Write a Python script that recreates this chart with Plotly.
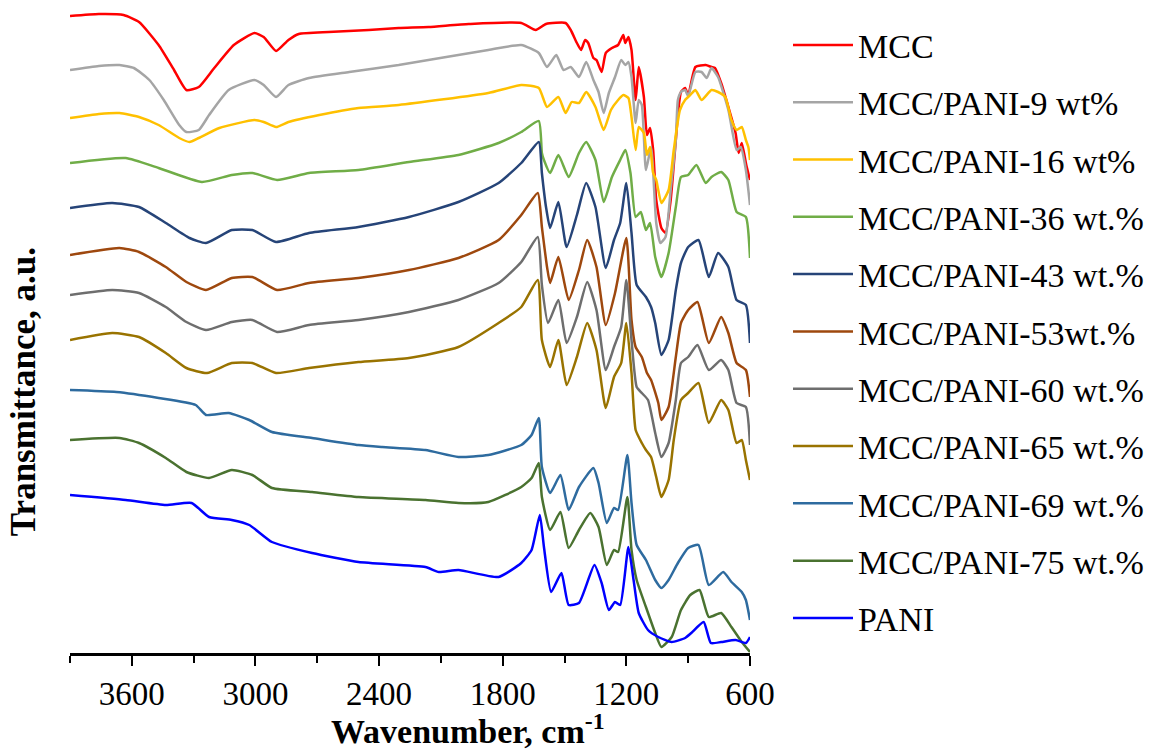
import plotly.graph_objects as go

# FTIR spectra of MCC, PANI and MCC/PANI composites (curves are offset vertically, a.u.)

mcc_wn = [3900, 3760, 3640, 3565, 3470, 3395, 3335, 3275, 3200, 3105, 3005, 2960, 2900, 2840, 2790, 2645,
          2450, 2305, 2160, 1965, 1710, 1640, 1590, 1495, 1470, 1440, 1420, 1400, 1385, 1360, 1345, 1320,
          1300, 1270, 1240, 1215, 1205, 1190, 1175, 1155, 1140, 1115, 1100, 1085, 1070, 1055, 1030, 1010,
          985, 960, 950, 935, 915, 900, 865, 815, 787, 770, 740, 705, 670, 655, 640, 618, 600]
mcc_t = [637, 639, 638, 631, 608, 583, 563, 566, 585, 608, 620, 616, 602, 613, 619, 621,
         623, 625, 626, 629, 630, 623, 629, 630, 623, 610, 603, 613, 610, 595, 593, 581,
         600, 605, 608, 618, 610, 616, 603, 553, 586, 556, 518, 525, 503, 453, 425, 420,
         453, 513, 538, 561, 565, 558, 586, 588, 586, 585, 570, 546, 520, 500, 510, 488, 473]

p9_wn = [3900, 3760, 3660, 3590, 3515, 3445, 3370, 3335, 3275, 3225, 3130, 3005, 2960, 2900, 2840, 2740,
         2545, 2305, 1870, 1710, 1625, 1585, 1540, 1505, 1470, 1430, 1395, 1360, 1335, 1310, 1285, 1255,
         1225, 1205, 1190, 1175, 1155, 1140, 1125, 1105, 1080, 1055, 1035, 1010, 985, 960, 950, 935,
         915, 900, 865, 835, 810, 787, 755, 705, 665, 645, 620, 600]
p9_t = [583, 587, 588, 585, 573, 553, 528, 521, 523, 538, 563, 573, 568, 556, 568, 575,
        581, 588, 603, 608, 600, 586, 598, 583, 586, 576, 591, 573, 561, 540, 560, 576,
        593, 588, 591, 576, 530, 553, 548, 483, 506, 430, 410, 416, 463, 513, 553, 561,
        563, 557, 581, 581, 575, 585, 576, 543, 503, 506, 483, 448]

p16_wn = [3900, 3760, 3660, 3565, 3470, 3370, 3320, 3275, 3175, 3005, 2960, 2900, 2840, 2690, 2500, 2305,
          1870, 1710, 1625, 1585, 1530, 1495, 1465, 1430, 1395, 1350, 1310, 1275, 1240, 1215, 1190, 1175,
          1155, 1140, 1115, 1100, 1085, 1070, 1055, 1030, 995, 970, 940, 915, 890, 865, 835, 787,
          755, 720, 690, 665, 640, 620, 608, 600]
p16_t = [535, 539, 540, 536, 528, 515, 511, 515, 525, 533, 531, 526, 531, 538, 545, 548,
         560, 568, 565, 546, 556, 540, 551, 550, 561, 546, 523, 543, 553, 558, 555, 536,
         503, 526, 520, 498, 506, 480, 473, 450, 463, 503, 543, 553, 558, 563, 553, 563,
         561, 556, 533, 523, 526, 513, 506, 493]

p36_wn = [3900, 3630, 3470, 3260, 3115, 3015, 2895, 2740, 2500, 2255, 2015, 1820, 1710, 1625, 1610, 1600,
          1570, 1530, 1480, 1430, 1395, 1350, 1310, 1270, 1230, 1205, 1180, 1155, 1130, 1105, 1085, 1060,
          1030, 995, 960, 935, 900, 860, 815, 787, 740, 705, 665, 620, 600]
p36_t = [490, 495, 485, 471, 478, 480, 473, 480, 483, 491, 498, 510, 521, 532, 500, 493,
         480, 498, 476, 500, 511, 493, 451, 476, 493, 503, 480, 436, 441, 423, 430, 396,
         376, 400, 446, 476, 478, 488, 470, 476, 481, 473, 441, 436, 395]

p43_wn = [3900, 3695, 3565, 3435, 3320, 3240, 3115, 3015, 2900, 2740, 2500, 2255, 2015, 1820, 1710, 1625,
          1610, 1590, 1570, 1530, 1490, 1440, 1395, 1350, 1300, 1260, 1230, 1200, 1175, 1150, 1105, 1080,
          1060, 1030, 995, 960, 935, 900, 850, 800, 755, 705, 665, 620, 600]
p43_t = [445, 450, 446, 430, 415, 410, 423, 423, 411, 420, 426, 436, 451, 470, 490, 511,
         480, 446, 425, 451, 406, 438, 470, 446, 385, 413, 430, 470, 420, 368, 356, 346,
         330, 298, 313, 363, 390, 406, 413, 376, 400, 386, 353, 348, 310]

p53_wn = [3900, 3660, 3565, 3435, 3335, 3240, 3115, 3015, 2895, 2740, 2500, 2255, 2015, 1820, 1710, 1630,
          1610, 1585, 1570, 1530, 1480, 1430, 1390, 1345, 1300, 1255, 1200, 1175, 1155, 1125, 1100, 1080,
          1045, 1030, 995, 960, 935, 900, 855, 800, 740, 705, 665, 620, 600]
p53_t = [398, 405, 401, 386, 371, 363, 375, 376, 363, 370, 375, 383, 395, 413, 438, 460,
         426, 386, 370, 396, 353, 383, 413, 386, 328, 360, 415, 333, 306, 296, 280, 273,
         250, 233, 246, 296, 330, 343, 351, 310, 336, 320, 290, 283, 256]

p60_wn = [3900, 3695, 3565, 3435, 3335, 3240, 3115, 3015, 2895, 2740, 2500, 2255, 2015, 1820, 1710, 1630,
          1610, 1580, 1530, 1490, 1440, 1390, 1345, 1300, 1260, 1225, 1200, 1175, 1150, 1125, 1095, 1060,
          1030, 995, 960, 935, 900, 855, 800, 740, 705, 665, 620, 600]
p60_t = [358, 363, 360, 346, 331, 323, 331, 333, 321, 328, 333, 341, 353, 370, 391, 416,
         368, 330, 353, 310, 336, 371, 343, 283, 306, 326, 373, 313, 266, 260, 253, 220,
         196, 210, 253, 290, 296, 308, 283, 293, 283, 250, 246, 208]

p65_wn = [3900, 3695, 3565, 3435, 3335, 3235, 3115, 3015, 2900, 2740, 2500, 2255, 2015, 1820, 1710, 1630,
          1610, 1570, 1530, 1490, 1440, 1390, 1345, 1300, 1260, 1225, 1200, 1175, 1155, 1125, 1105, 1080,
          1055, 1030, 995, 970, 935, 900, 850, 800, 740, 705, 665, 640, 620, 600]
p65_t = [313, 320, 316, 300, 285, 280, 290, 290, 280, 285, 291, 295, 306, 330, 346, 373,
         313, 286, 313, 268, 296, 330, 303, 245, 276, 290, 330, 280, 223, 210, 203, 196,
         176, 156, 173, 213, 253, 260, 270, 230, 253, 243, 210, 213, 193, 173]

p69_wn = [3900, 3675, 3470, 3290, 3240, 3130, 3030, 2920, 2725, 2500, 2385, 2175, 2015, 1870, 1710, 1660,
          1625, 1610, 1570, 1520, 1480, 1430, 1360, 1335, 1295, 1260, 1240, 1195, 1175, 1150, 1105, 1060,
          1030, 995, 950, 900, 850, 800, 730, 690, 640, 620, 600]
p69_t = [263, 261, 255, 248, 238, 240, 233, 221, 215, 208, 206, 203, 196, 198, 208, 218,
         235, 186, 160, 178, 143, 166, 185, 170, 130, 145, 143, 198, 150, 108, 93, 73,
         65, 73, 90, 105, 108, 68, 81, 71, 61, 53, 33]

p75_wn = [3900, 3660, 3565, 3435, 3335, 3225, 3115, 3015, 2920, 2725, 2500, 2175, 2015, 1870, 1710, 1660,
          1625, 1610, 1570, 1520, 1480, 1430, 1375, 1335, 1295, 1260, 1240, 1195, 1175, 1150, 1105, 1060,
          1030, 980, 935, 890, 845, 800, 740, 690, 640, 600]
p75_t = [213, 215, 210, 195, 181, 175, 183, 178, 165, 161, 156, 153, 150, 151, 166, 175,
         190, 156, 123, 141, 105, 123, 140, 126, 88, 103, 101, 156, 103, 73, 46, 20,
         6, 16, 43, 58, 63, 36, 40, 26, 11, 1]

pani_wn = [3900, 3630, 3435, 3310, 3225, 3115, 3030, 2920, 2725, 2500, 2175, 2110, 2015, 1820, 1710, 1660,
           1620, 1600, 1565, 1515, 1480, 1430, 1355, 1320, 1285, 1255, 1230, 1190, 1165, 1140, 1095, 1045,
           980, 915, 885, 825, 790, 740, 670, 620, 600]
pani_t = [158, 153, 148, 150, 136, 133, 128, 111, 100, 91, 86, 81, 83, 76, 90, 103,
          138, 106, 61, 80, 48, 50, 88, 70, 43, 51, 48, 106, 73, 40, 23, 16,
          11, 15, 20, 31, 10, 11, 13, 10, 16]

names = ["MCC", "MCC/PANI-9 wt%", "MCC/PANI-16 wt%", "MCC/PANI-36 wt.%", "MCC/PANI-43 wt.%",
         "MCC/PANI-53wt.%", "MCC/PANI-60 wt.%", "MCC/PANI-65 wt.%", "MCC/PANI-69 wt.%",
         "MCC/PANI-75 wt.%", "PANI"]
colors = ["#FF0000", "#A5A5A5", "#FFC000", "#70AD47", "#264478", "#9E480E",
          "#6E6E6E", "#997300", "#2E6B9F", "#4A7230", "#0000FF"]
spectra = [(mcc_wn, mcc_t), (p9_wn, p9_t), (p16_wn, p16_t), (p36_wn, p36_t), (p43_wn, p43_t),
           (p53_wn, p53_t), (p60_wn, p60_t), (p65_wn, p65_t), (p69_wn, p69_t), (p75_wn, p75_t),
           (pani_wn, pani_t)]

FONT = "Liberation Serif, Times New Roman, serif"

fig = go.Figure()
for i, (name, color, (wn, t)) in enumerate(zip(names, colors, spectra)):
    fig.add_trace(go.Scatter(
        x=wn, y=t, mode="lines", name=name, legendgroup=f"g{i}",
        line=dict(color=color, width=2.5, shape="spline", smoothing=0.5),
    ))

fig.update_layout(
    width=1149, height=753,
    margin=dict(l=70, r=397, t=0, b=100),
    paper_bgcolor="white", plot_bgcolor="white",
    font=dict(family=FONT, color="black", size=33),
    showlegend=True,
    legend=dict(
        x=1.056, y=0.975, xanchor="left", yanchor="top",
        font=dict(family=FONT, size=34, color="black"),
        tracegroupgap=10.1, itemwidth=60, maxheight=745,
        bgcolor="rgba(0,0,0,0)",
    ),
    xaxis=dict(
        range=[3900, 600], tick0=600, dtick=600,
        showline=True, linecolor="black", linewidth=2.5,
        ticks="outside", ticklen=10, tickwidth=2, tickcolor="black",
        minor=dict(dtick=300, ticks="outside", ticklen=7, tickwidth=2, tickcolor="black"),
        showgrid=False, zeroline=False,
        tickfont=dict(family=FONT, size=33, color="black"),
    ),
    yaxis=dict(
        range=[0, 653], showline=False, showticklabels=False, ticks="",
        showgrid=False, zeroline=False,
    ),
    annotations=[
        dict(text="<b>Wavenumber, cm<sup>-1</sup></b>", xref="paper", yref="paper",
             x=(469 - 70) / 682, y=-(729 - 653) / 653, xanchor="center", yanchor="middle",
             showarrow=False, font=dict(family=FONT, size=34, color="black")),
        dict(text="<b>Transmittance, a.u.</b>", xref="paper", yref="paper",
             x=-(70 - 23) / 682, y=(653 - 392) / 653, xanchor="center", yanchor="middle",
             textangle=-90, showarrow=False, font=dict(family=FONT, size=35, color="black")),
    ],
)

fig.write_html("out.html")
